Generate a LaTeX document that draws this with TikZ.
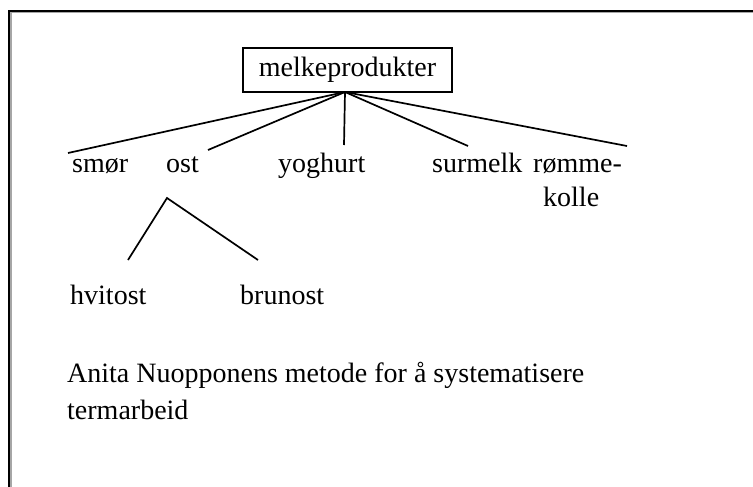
\documentclass[tikz,border=0pt]{standalone}
\usepackage{fontspec}
\setmainfont{Liberation Serif}
\begin{document}
\begin{tikzpicture}[x=1pt,y=-1pt,
  lbl/.style={inner sep=0pt, anchor=base west, font=\fontsize{28}{34}\selectfont},
  edge/.style={line width=1.7pt, black},
  framebox/.style={draw, line width=1.7pt, minimum width=209pt, minimum height=44pt, inner sep=0pt}]
\useasboundingbox (0,0) rectangle (753,487);
% page frame (top and left edges with light shadow)
\draw[line width=1.5pt, black!35] (11,487) -- (11,12.5) -- (753,12.5);
\draw[line width=2pt, black] (9,487) -- (9,11) -- (753,11);
% root
\node[framebox, font=\fontsize{28}{34}\selectfont] (root) at (347.5,70) {melkeprodukter};
\coordinate (hub) at (345,92);
% children labels
\node[lbl] (smor) at (72,172) {smør};
\node[lbl] (ost) at (166,172) {ost};
\node[lbl] (yog) at (278,172) {yoghurt};
\node[lbl] (sur) at (432,172) {surmelk};
\node[lbl, align=left] (romme) at (533,206) {rømme-\\\hspace*{10pt}kolle};
% connector ends
\coordinate (esmor) at (68,153);
\coordinate (eost) at (208,150);
\coordinate (eyog) at (344,145);
\coordinate (esur) at (468,146);
\coordinate (eromme) at (627,146);
\draw[edge] (hub) -- (esmor);
\draw[edge] (hub) -- (eost);
\draw[edge] (hub) -- (eyog);
\draw[edge] (hub) -- (esur);
\draw[edge] (hub) -- (eromme);
% ost subtree
\node[lbl] (hvit) at (70,304) {hvitost};
\node[lbl] (brun) at (240,304) {brunost};
\coordinate (apex) at (167,198);
\coordinate (ehvit) at (128,260);
\coordinate (ebrun) at (258,260);
\draw[edge] (ehvit) -- (apex) -- (ebrun);
% caption
\node[lbl, align=left, font=\fontsize{28}{37}\selectfont] (cap) at (67,419) {Anita Nuopponens metode for å systematisere\\termarbeid};
\end{tikzpicture}
\end{document}
